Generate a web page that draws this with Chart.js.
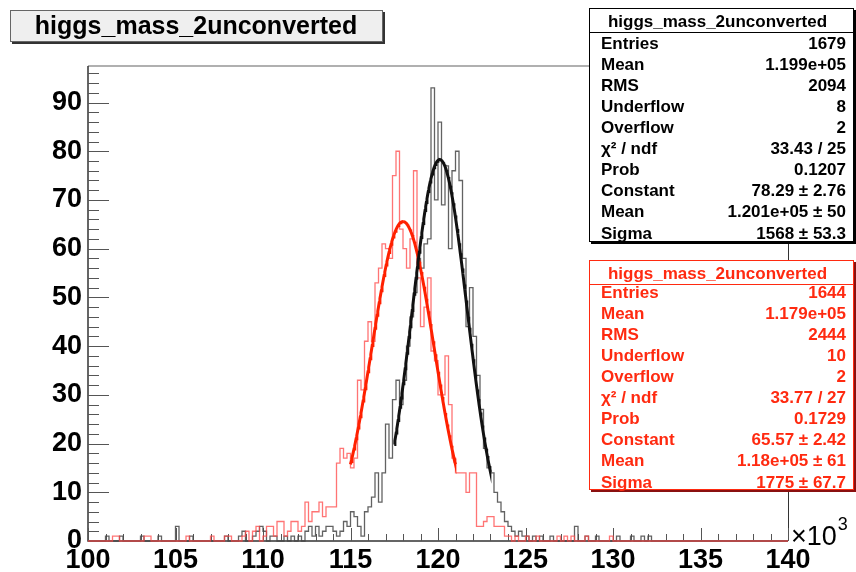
<!DOCTYPE html>
<html>
<head>
<meta charset="utf-8">
<script src="https://cdn.jsdelivr.net/npm/chart.js@4/dist/chart.umd.min.js"></script>
<style>
  html, body { margin: 0; padding: 0; background: #fff; }
  #wrap { width: 856px; height: 572px; position: relative; }
</style>
</head>
<body>
<div id="wrap"><canvas id="c" width="856" height="572"></canvas></div>
<script>
// Diphoton invariant mass, both photons unconverted (x in units of 10^3)
const histTitle = 'higgs_mass_2unconverted';
const xMin = 100, xMax = 140, binWidth = 0.2;
const yMax = 97.5;
const xTickStep = 5, yTickStep = 10;

// Bin contents, 0.2 wide bins from 100.0 to 140.0, one row per 4 units
const countsBlack = [
  0,0,0,0,0,1,0,0,0,1, 0,0,0,0,0,1,0,0,0,0,
  1,0,0,0,0,3,0,0,0,1, 0,0,0,0,0,0,0,0,0,1,
  0,0,0,1,2,0,0,1,2,3, 2,0,1,1,0,0,1,0,1,0,
  1,0,2,3,1,3,1,2,3,3, 2,1,2,4,3,6,5,3,1,6,
  7,9,14,8,14,24,17,29,33,28, 33,40,46,51,58,56,61,62,93,70,
  86,69,77,60,76,80,74,58,44,52, 42,34,27,19,15,14,10,8,6,4,
  3,2,1,2,1,1,0,1,0,1, 0,0,1,0,0,0,0,0,0,3,
  0,0,1,0,0,1,0,0,0,0, 0,1,0,0,0,1,0,0,1,0,
  1,0,0,0,0,0,0,0,0,0, 0,0,0,0,0,0,0,0,0,0,
  0,0,0,0,0,0,0,0,0,0, 0,0,0,0,0,0,0,0,0,0
];
const countsRed = [
  0,0,0,0,0,0,0,1,1,0, 0,0,0,0,0,0,1,1,0,0,
  0,0,0,0,0,0,0,0,1,0, 0,0,0,0,0,1,0,0,0,1,
  1,0,0,0,1,2,0,2,3,0, 1,3,3,1,4,4,1,2,4,4,
  2,3,8,4,6,6,8,5,7,7, 7,16,19,17,18,15,17,33,31,41,
  45,41,53,56,61,60,58,75,80,64, 60,56,62,76,54,44,48,54,39,37,
  30,30,38,28,17,14,14,14,10,14, 14,3,3,4,5,5,3,3,3,1,
  1,0,1,0,0,1,0,0,1,0, 0,0,0,0,1,0,1,0,1,0,
  0,0,1,0,0,0,0,0,0,1, 0,0,0,0,0,0,0,0,0,0,
  0,0,0,0,0,0,0,0,0,0, 0,0,0,0,0,0,0,0,0,0,
  0,0,0,0,0,0,0,0,0,0, 0,0,0,0,0,0,0,0,0,0
];

// Gaussian fit results (mean and sigma in units of 10^3) and fit ranges
const fitBlack = { constant: 78.29, mean: 120.1, sigma: 1.568, from: 117.5, to: 123.0 };
const fitRed   = { constant: 65.57, mean: 118.0, sigma: 1.775, from: 115.0, to: 121.0 };

// Statistics panels
const statsBlack = [
  ['Entries', '1679'], ['Mean', '1.199e+05'], ['RMS', '2094'], ['Underflow', '8'],
  ['Overflow', '2'], ['\u03C7\u00B2 / ndf', '33.43 / 25'], ['Prob', '0.1207'],
  ['Constant', '78.29 \u00B1 2.76'], ['Mean', '1.201e+05 \u00B1 50'], ['Sigma', '1568 \u00B1 53.3']
];
const statsRed = [
  ['Entries', '1644'], ['Mean', '1.179e+05'], ['RMS', '2444'], ['Underflow', '10'],
  ['Overflow', '2'], ['\u03C7\u00B2 / ndf', '33.77 / 27'], ['Prob', '0.1729'],
  ['Constant', '65.57 \u00B1 2.42'], ['Mean', '1.18e+05 \u00B1 61'], ['Sigma', '1775 \u00B1 67.7']
];

const FONT = "'Liberation Sans', Arial, Helvetica, sans-serif";
const RED = '#ff2a10';

function histPoints(counts) {
  const pts = counts.map((c, i) => ({ x: xMin + i * binWidth, y: c }));
  pts.push({ x: xMax, y: 0 });
  return pts;
}
function fitPoints(f) {
  const pts = [];
  const n = 150;
  for (let k = 0; k <= n; k++) {
    const x = f.from + (f.to - f.from) * k / n;
    const z = (x - f.mean) / f.sigma;
    pts.push({ x, y: f.constant * Math.exp(-0.5 * z * z) });
  }
  return pts;
}

// Frame, axis lines and inward ticks (drawn under the histograms)
const framePlugin = {
  id: 'frame',
  beforeDatasetsDraw(chart) {
    const { ctx, chartArea: a, scales: { x, y } } = chart;
    ctx.save();
    // top edge
    ctx.strokeStyle = '#b0b0b0'; ctx.lineWidth = 2;
    ctx.beginPath(); ctx.moveTo(a.left, a.top); ctx.lineTo(a.right, a.top); ctx.stroke();
    // right edge
    ctx.strokeStyle = '#333'; ctx.lineWidth = 1;
    ctx.beginPath(); ctx.moveTo(a.right + 0.5, a.top); ctx.lineTo(a.right + 0.5, a.bottom); ctx.stroke();
    // axis lines
    ctx.strokeStyle = '#333'; ctx.lineWidth = 1.5;
    ctx.beginPath();
    ctx.moveTo(a.left, a.top); ctx.lineTo(a.left, a.bottom);
    ctx.lineTo(a.right, a.bottom);
    ctx.stroke();
    // y ticks: major every 10, minor every 2
    ctx.strokeStyle = '#555'; ctx.lineWidth = 1;
    ctx.beginPath();
    for (let v = 0; v <= yMax + 1e-9; v += 2) {
      const py = Math.round(y.getPixelForValue(v)) + 0.5;
      const len = (Math.round(v) % yTickStep === 0) ? 21 : 11;
      ctx.moveTo(a.left, py); ctx.lineTo(a.left + len, py);
    }
    // x ticks: major every 5, minor every 1
    for (let v = xMin; v <= xMax + 1e-9; v += 1) {
      const px = Math.round(x.getPixelForValue(v)) + 0.5;
      const len = (Math.round(v) % xTickStep === 0) ? 13 : 7;
      ctx.moveTo(px, a.bottom); ctx.lineTo(px, a.bottom - len);
    }
    ctx.stroke();
    ctx.restore();
  },
  afterDatasetsDraw(chart) {
    const { ctx, chartArea: a } = chart;
    ctx.save();
    // axis multiplier
    ctx.fillStyle = '#000';
    ctx.textBaseline = 'alphabetic'; ctx.textAlign = 'left';
    ctx.font = `27px ${FONT}`;
    ctx.fillText('\u00D710', a.right + 3, a.bottom + 4);
    const w = ctx.measureText('\u00D710').width;
    ctx.font = `18px ${FONT}`;
    ctx.fillText('3', a.right + 4 + w, a.bottom - 11);

    // title box
    ctx.fillStyle = '#333';
    ctx.fillRect(12, 12, 373, 32);
    ctx.fillStyle = '#efefef';
    ctx.fillRect(10, 10, 373, 32);
    ctx.strokeStyle = '#666'; ctx.lineWidth = 1;
    ctx.strokeRect(10.5, 10.5, 372, 31);
    ctx.fillStyle = '#000';
    ctx.font = `bold 25px ${FONT}`;
    ctx.textAlign = 'center'; ctx.textBaseline = 'middle';
    ctx.fillText(histTitle, 196, 27);

    drawStats(ctx, 589, 8, 265, 234, statsBlack, '#000', '#000', 44);
    drawStats(ctx, 589, 260, 265, 230, statsRed, RED, '#8a1010', 293);
    ctx.restore();
  }
};

function drawStats(ctx, x, y, w, h, rows, color, shadow, firstRow) {
  ctx.fillStyle = shadow;
  ctx.fillRect(x + 2, y + 2, w, h);
  ctx.fillStyle = '#fff';
  ctx.fillRect(x, y, w, h);
  ctx.strokeStyle = color; ctx.lineWidth = 1;
  ctx.strokeRect(x + 0.5, y + 0.5, w - 1, h - 1);
  ctx.beginPath();
  ctx.moveTo(x, y + 24.5); ctx.lineTo(x + w, y + 24.5);
  ctx.stroke();
  ctx.fillStyle = color;
  ctx.font = `bold 17px ${FONT}`;
  ctx.textBaseline = 'middle';
  ctx.textAlign = 'center';
  ctx.fillText(histTitle, x + w / 2 - 4, y + 14);
  rows.forEach((r, i) => {
    const ry = firstRow + i * 21.1;
    ctx.textAlign = 'left';
    ctx.fillText(r[0], x + 12, ry);
    ctx.textAlign = 'right';
    ctx.fillText(r[1], x + w - 8, ry);
  });
}

new Chart(document.getElementById('c'), {
  type: 'scatter',
  data: {
    datasets: [
      { label: 'fit black', data: fitPoints(fitBlack), showLine: true, borderColor: '#111',
        borderWidth: 3, pointRadius: 0, tension: 0, order: 0 },
      { label: 'fit red', data: fitPoints(fitRed), showLine: true, borderColor: '#ff2000',
        borderWidth: 3, pointRadius: 0, tension: 0, order: 1 },
      { label: 'red', data: histPoints(countsRed), showLine: true, stepped: 'before',
        borderColor: 'rgba(255,70,70,0.75)', borderWidth: 1.3, pointRadius: 0, clip: false, order: 2 },
      { label: 'black', data: histPoints(countsBlack), showLine: true, stepped: 'before',
        borderColor: 'rgba(70,70,70,0.85)', borderWidth: 1.3, pointRadius: 0, clip: false, order: 3 }
    ]
  },
  options: {
    responsive: false,
    animation: false,
    devicePixelRatio: 1,
    layout: { padding: { left: 0, top: 66, right: 68, bottom: 0 } },
    plugins: { legend: { display: false }, tooltip: { enabled: false } },
    scales: {
      x: {
        type: 'linear', min: xMin, max: xMax,
        ticks: { stepSize: xTickStep, color: '#000', padding: 3, maxRotation: 0, autoSkip: false,
                 font: { family: FONT, size: 27, weight: 'bold' } },
        grid: { display: false, drawTicks: false },
        border: { display: false },
        afterFit(s) { s.height = 31; }
      },
      y: {
        min: 0, max: yMax,
        ticks: { stepSize: yTickStep, includeBounds: false, color: '#000', padding: 6,
                 font: { family: FONT, size: 27, weight: 'bold' } },
        grid: { display: false, drawTicks: false },
        border: { display: false },
        afterFit(s) { s.width = 88; }
      }
    }
  },
  plugins: [framePlugin]
});
</script>
</body>
</html>
